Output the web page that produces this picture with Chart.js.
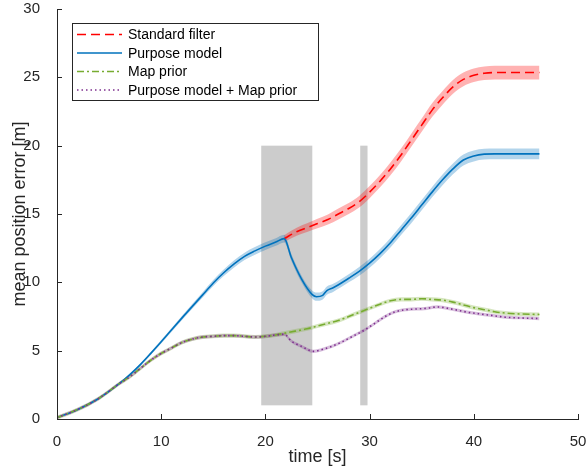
<!DOCTYPE html>
<html>
<head>
<meta charset="utf-8">
<script src="https://cdn.jsdelivr.net/npm/chart.js@4.4.1/dist/chart.umd.min.js"></script>
<style>
  html, body { margin: 0; padding: 0; background: #fff; }
  #wrap { width: 587px; height: 472px; }
</style>
</head>
<body>
<div id="wrap"><canvas id="chart" width="587" height="472"></canvas></div>
<script>
// series labels
const seriesNames = ["Standard filter", "Purpose model", "Map prior", "Purpose model + Map prior"];

// Standard filter (only visible after it splits from the purpose model)
const tStd = [21.8, 23, 24, 25, 26, 27, 28, 29, 30, 31, 32, 33, 34, 35, 36, 37, 38, 39, 40, 41, 42, 44, 46.3];
const stdVals = [13.2, 13.7, 14.0, 14.3, 14.6, 15.0, 15.4, 15.9, 16.6, 17.4, 18.3, 19.3, 20.4, 21.5, 22.6, 23.5, 24.3, 24.85, 25.15, 25.3, 25.35, 25.35, 25.35];
const stdSpread = [0.25, 0.3, 0.32, 0.35, 0.37, 0.4, 0.4, 0.42, 0.44, 0.45, 0.46, 0.47, 0.48, 0.48, 0.5, 0.5, 0.5, 0.5, 0.5, 0.5, 0.5, 0.5, 0.5];

// Purpose model
const tPurpose = [0, 2, 4, 6, 7, 8, 9, 10, 12, 14, 15, 16, 17, 18, 19, 20, 21, 21.8, 22.5, 23.5, 24.5, 24.9, 25.5, 25.9, 26.5, 28, 29, 30, 31, 32, 33, 34, 35, 36, 37, 38, 39, 40, 41, 42, 44, 46.3];
const purposeVals = [0.1, 0.7, 1.5, 2.6, 3.25, 3.98, 4.8, 5.65, 7.4, 9.1, 9.95, 10.7, 11.35, 11.9, 12.3, 12.65, 12.95, 13.2, 11.8, 10.2, 9.1, 8.95, 9.05, 9.4, 9.6, 10.3, 10.8, 11.4, 12.1, 12.9, 13.8, 14.7, 15.65, 16.6, 17.5, 18.3, 18.95, 19.25, 19.38, 19.4, 19.4, 19.4];
const purposeSpread = [0.02, 0.04, 0.06, 0.08, 0.09, 0.1, 0.11, 0.13, 0.16, 0.2, 0.22, 0.24, 0.26, 0.27, 0.28, 0.28, 0.28, 0.28, 0.25, 0.25, 0.28, 0.3, 0.3, 0.3, 0.3, 0.3, 0.32, 0.33, 0.34, 0.35, 0.36, 0.37, 0.38, 0.38, 0.39, 0.4, 0.4, 0.4, 0.4, 0.4, 0.4, 0.4];

// Map prior
const tMap = [0, 2, 4, 6, 7, 8, 9, 10, 11, 12, 13, 14, 15, 16, 17, 18, 19, 20, 21, 22, 23, 24, 25, 26, 27, 28, 29, 30, 31, 32, 33, 34, 35, 36, 37, 38, 39, 40, 41, 42, 43, 44, 46.3];
const mapVals = [0.1, 0.7, 1.5, 2.6, 3.1, 3.7, 4.3, 4.8, 5.2, 5.6, 5.85, 6.0, 6.05, 6.1, 6.1, 6.05, 6.0, 6.05, 6.15, 6.3, 6.45, 6.6, 6.8, 7.0, 7.2, 7.5, 7.8, 8.1, 8.4, 8.65, 8.75, 8.75, 8.8, 8.75, 8.7, 8.55, 8.35, 8.15, 8.0, 7.85, 7.75, 7.7, 7.65];

// Purpose model + Map prior
const tBoth = [0, 2, 4, 6, 7, 8, 9, 10, 11, 12, 13, 14, 15, 16, 17, 18, 19, 20, 21, 21.8, 22.5, 23.5, 24.6, 25.5, 26.5, 27.5, 28.5, 29.5, 30.5, 31.5, 32.5, 33.5, 34.5, 35.5, 36.5, 37.5, 38.5, 39.5, 40.5, 41.5, 43, 46.3];
const bothVals = [0.1, 0.7, 1.5, 2.6, 3.1, 3.7, 4.3, 4.8, 5.2, 5.6, 5.85, 6.0, 6.05, 6.1, 6.1, 6.05, 6.0, 6.05, 6.15, 6.2, 5.7, 5.3, 4.95, 5.1, 5.35, 5.7, 6.1, 6.5, 7.0, 7.5, 7.85, 8.0, 8.05, 8.1, 8.2, 8.1, 7.95, 7.8, 7.7, 7.6, 7.45, 7.35];

const mapSpread = 0.15;
const bothSpread = 0.12;

// grey shaded intervals
const shadeFrom = [19.6, 29.1];
const shadeTo = [24.5, 29.8];
const shadeLow = 1;
const shadeHigh = 20;

const xTicks = [0, 10, 20, 30, 40, 50];
const yTicks = [0, 5, 10, 15, 20, 25, 30];

const FONT = "'Liberation Sans', Arial, Helvetica, sans-serif";
const AXIS = "#262626";

const lineColors = ["#ff0000", "#0072bd", "#77ac30", "#7e2f8e"];
const bandColors = ["rgba(255,0,0,0.3)", "rgba(0,114,189,0.3)", "rgba(119,172,48,0.3)", "rgba(126,47,142,0.3)"];
const dashes = [[9, 5], [], [7, 3, 2, 3], [1.5, 3]];

const pts = (t, v) => t.map((x, i) => ({x: x, y: v[i]}));
const ptsOff = (t, v, s, sign) => t.map((x, i) => ({x: x, y: v[i] + sign * (Array.isArray(s) ? s[i] : s)}));

function band(t, v, s, idx) {
  return [
    {data: ptsOff(t, v, s, 1), fill: "+1", backgroundColor: bandColors[idx], borderWidth: 0, pointRadius: 0, order: 20 - idx, cubicInterpolationMode: "monotone"},
    {data: ptsOff(t, v, s, -1), fill: false, borderWidth: 0, pointRadius: 0, order: 20 - idx, cubicInterpolationMode: "monotone"}
  ];
}

function line(t, v, idx, order) {
  return {label: seriesNames[idx], data: pts(t, v), borderColor: lineColors[idx], borderWidth: 1.6,
    borderDash: dashes[idx], pointRadius: 0, fill: false, order: order, cubicInterpolationMode: "monotone"};
}

const datasets = [
  ...band(tStd, stdVals, stdSpread, 0),
  ...band(tPurpose, purposeVals, purposeSpread, 1),
  ...band(tMap, mapVals, mapSpread, 2),
  ...band(tBoth, bothVals, bothSpread, 3),
  line(tStd, stdVals, 0, 4),
  line(tPurpose, purposeVals, 1, 3),
  line(tMap, mapVals, 2, 2),
  line(tBoth, bothVals, 3, 1)
];

// grey boxes, inward ticks and the boxed legend
const decor = {
  id: "decor",
  beforeDatasetsDraw(chart) {
    const {ctx, scales: {x, y}} = chart;
    ctx.save();
    ctx.fillStyle = "#cccccc";
    shadeFrom.forEach((a, i) => {
      const x0 = x.getPixelForValue(a), x1 = x.getPixelForValue(shadeTo[i]);
      const y0 = y.getPixelForValue(shadeHigh), y1 = y.getPixelForValue(shadeLow);
      ctx.fillRect(x0, y0, x1 - x0, y1 - y0);
    });
    ctx.restore();
  },
  afterDraw(chart) {
    const {ctx, chartArea: ca, scales: {x, y}} = chart;
    ctx.save();
    ctx.strokeStyle = AXIS;
    ctx.lineWidth = 1;
    ctx.beginPath();
    xTicks.forEach(v => {
      const px = Math.round(x.getPixelForValue(v)) + 0.5;
      ctx.moveTo(px, ca.bottom);
      ctx.lineTo(px, ca.bottom - 5);
    });
    yTicks.forEach(v => {
      const py = Math.round(y.getPixelForValue(v)) + 0.5;
      ctx.moveTo(ca.left, py);
      ctx.lineTo(ca.left + 5, py);
    });
    ctx.stroke();

    // legend
    const lx = 72.5, ly = 23.5, lw = 246, lh = 77;
    ctx.fillStyle = "#fff";
    ctx.fillRect(lx, ly, lw, lh);
    ctx.strokeStyle = AXIS;
    ctx.strokeRect(lx, ly, lw, lh);
    const rows = [34.5, 53, 71.5, 90];
    ctx.font = "14px " + FONT;
    ctx.textBaseline = "middle";
    seriesNames.forEach((name, i) => {
      ctx.beginPath();
      ctx.setLineDash(dashes[i]);
      ctx.strokeStyle = lineColors[i];
      ctx.lineWidth = 1.6;
      ctx.moveTo(77, rows[i]);
      ctx.lineTo(122, rows[i]);
      ctx.stroke();
      ctx.setLineDash([]);
      ctx.fillStyle = "#000";
      ctx.fillText(name, 128, rows[i] + 1);
    });
    ctx.restore();
  }
};

new Chart(document.getElementById("chart"), {
  type: "line",
  data: {datasets},
  plugins: [decor],
  options: {
    responsive: false,
    animation: false,
    devicePixelRatio: 1,
    layout: {padding: {left: 0, right: 9, top: 9, bottom: 0}},
    plugins: {legend: {display: false}, tooltip: {enabled: false}},
    scales: {
      x: {
        type: "linear", min: 0, max: 50,
        afterBuildTicks: s => { s.ticks = xTicks.map(v => ({value: v})); },
        afterFit: s => { s.height = 53; s.paddingLeft = 0; s.paddingRight = 0; },
        grid: {display: false},
        border: {display: true, color: AXIS, width: 1},
        ticks: {color: AXIS, font: {family: FONT, size: 15}, padding: 6, maxRotation: 0},
        title: {display: true, text: "time [s]", color: AXIS, font: {family: FONT, size: 18}, padding: {top: 0, bottom: 4}}
      },
      y: {
        type: "linear", min: 0, max: 30,
        afterBuildTicks: s => { s.ticks = yTicks.map(v => ({value: v})); },
        afterFit: s => { s.width = 57; s.paddingTop = 0; s.paddingBottom = 0; },
        grid: {display: false},
        border: {display: true, color: AXIS, width: 1},
        ticks: {color: AXIS, font: {family: FONT, size: 15}, padding: 9},
        title: {display: true, text: "mean position error [m]", color: AXIS, font: {family: FONT, size: 18}, padding: {top: 9, bottom: 0}}
      }
    }
  }
});
</script>
</body>
</html>
